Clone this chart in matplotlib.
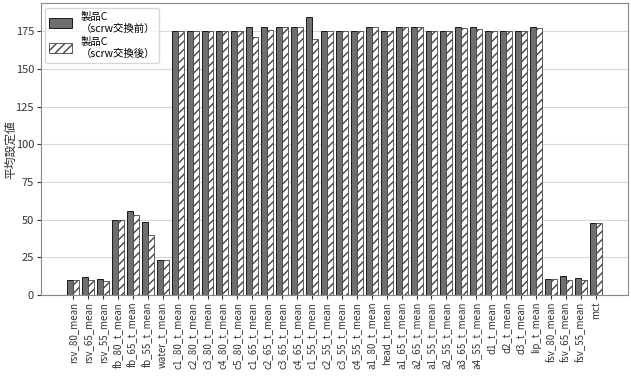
import numpy as np
import matplotlib
matplotlib.use("Agg")
import matplotlib.pyplot as plt

plt.rcParams['font.family'] = ['Noto Sans CJK JP', 'DejaVu Sans']

# x軸カテゴリ
labels = ['rsv_80_mean', 'rsv_65_mean', 'rsv_55_mean', 'fb_80_t_mean', 'fb_65_t_mean',
          'fb_55_t_mean', 'water_t_mean', 'c1_80_t_mean', 'c2_80_t_mean', 'c3_80_t_mean',
          'c4_80_t_mean', 'c5_80_t_mean', 'c1_65_t_mean', 'c2_65_t_mean', 'c3_65_t_mean',
          'c4_65_t_mean', 'c1_55_t_mean', 'c2_55_t_mean', 'c3_55_t_mean', 'c4_55_t_mean',
          'a1_80_t_mean', 'head_t_mean', 'a1_65_t_mean', 'a2_65_t_mean', 'a1_55_t_mean',
          'a2_55_t_mean', 'a3_65_t_mean', 'a4_55_t_mean', 'd1_t_mean', 'd2_t_mean',
          'd3_t_mean', 'lip_t_mean', 'fsv_80_mean', 'fsv_65_mean', 'fsv_55_mean', 'mct']

# 交換前 / 交換後
before = [10, 12, 10.7, 50, 56, 48.3, 23.2, 175, 175, 175,
          175, 175, 178, 178, 178, 178, 184.7, 175, 175, 175,
          178, 175, 178, 178, 175, 175, 178, 178, 175, 175,
          175, 178, 10.5, 12.3, 11.2, 48]
after = [10, 9.8, 9.3, 50, 53, 39.8, 23.2, 175, 175, 175,
         175, 175, 171.5, 175.8, 178, 178, 169.7, 175, 175, 175,
         178, 175, 178, 178, 175, 175, 177, 176.8, 175, 175,
         175, 177, 10.7, 10, 10, 48]

x = np.arange(len(labels))
w = 0.4

fig = plt.figure(figsize=(6.31, 3.79), dpi=100)
ax = fig.add_axes([0.065, 0.222, 0.93, 0.769])

ax.bar(x - w / 2, before, width=w, color='#6e6e6e', edgecolor='black', linewidth=0.6,
       label='製品C\n（scrw交換前）')
ax.bar(x + w / 2, after, width=w, color='white', edgecolor='#444444', linewidth=0.6,
       hatch='////', label='製品C\n（scrw交換後）')

ax.set_xticks(x)
ax.set_xticklabels(labels, rotation=90, fontsize=7, color='#333333')
ax.set_xlim(-2.15, 37.15)
ax.set_ylim(0, 193.5)
ax.set_yticks(np.arange(0, 176, 25))
ax.tick_params(axis='y', labelsize=8, colors='#333333', length=3, pad=2)
ax.tick_params(axis='x', length=3, colors='#333333', pad=2)
ax.set_ylabel('平均設定値', fontsize=8.5, color='#333333')
ax.yaxis.set_label_coords(-0.041, 0.5)

ax.grid(axis='y', color='#d8d8d8', linewidth=0.8)
ax.set_axisbelow(True)
for s in ax.spines.values():
    s.set_color('#888888')
    s.set_linewidth(0.8)

leg = ax.legend(loc='upper left', fontsize=7.5, frameon=True, handlelength=2.2,
                handleheight=1.0, borderaxespad=0.4, labelspacing=0.3)
leg.get_frame().set_edgecolor('#cccccc')

fig.savefig('out.png', dpi=100)
